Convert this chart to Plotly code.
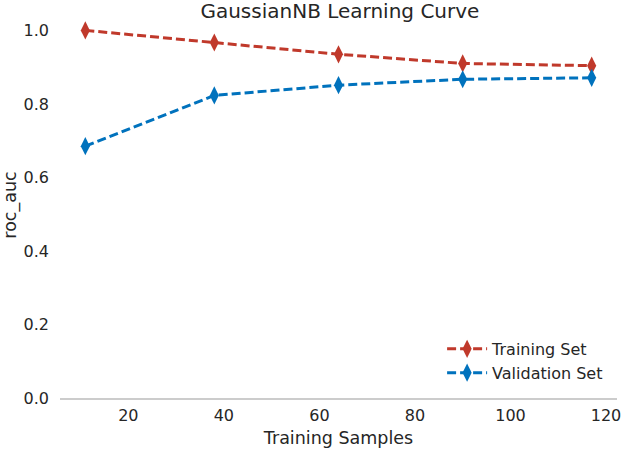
import plotly.graph_objects as go

train_sizes = [11, 38, 64, 90, 117]
train_scores = [1.0, 0.967, 0.935, 0.910, 0.904]
valid_scores = [0.685, 0.823, 0.851, 0.867, 0.871]
series_names = ["Training Set", "Validation Set"]
y_ticks = [0.0, 0.2, 0.4, 0.6, 0.8, 1.0]
x_ticks = [20, 40, 60, 80, 100, 120]

RED = "#c0392b"
BLUE = "#0072bd"
FONT = "DejaVu Sans"

fig = go.Figure()
for name, ys, col in [(series_names[0], train_scores, RED), (series_names[1], valid_scores, BLUE)]:
    fig.add_trace(go.Scatter(
        x=train_sizes, y=ys, name=name, mode="lines+markers",
        line=dict(color=col, width=3, dash="9px,4px"),
        marker=dict(symbol="diamond-tall", size=13, color=col),
    ))

span = train_sizes[-1] - train_sizes[0]
fig.update_layout(
    width=626, height=454,
    margin=dict(l=60, r=5, t=12, b=56),
    paper_bgcolor="white", plot_bgcolor="white",
    font=dict(family=FONT, size=16, color="#262626"),
    title=dict(text="GaussianNB Learning Curve", x=0.543, xanchor="center", y=0.975, yanchor="middle",
               font=dict(size=20, family=FONT, color="#262626")),
    xaxis=dict(range=[train_sizes[0] - 0.05 * span, train_sizes[-1] + 0.05 * span],
               tickvals=x_ticks, showgrid=False, zeroline=False,
               showline=True, linecolor="#cccccc", linewidth=1.5,
               ticks="", ticklabelstandoff=2,
               title=dict(text="Training Samples", font=dict(size=17.5), standoff=8),
               tickfont=dict(size=16)),
    yaxis=dict(range=[0, 1.05], tickvals=y_ticks, tickformat=".1f",
               showgrid=False, zeroline=False, showline=False, ticks="",
               ticklabelstandoff=10,
               title=dict(text="roc_auc", font=dict(size=17.5), standoff=4),
               tickfont=dict(size=16)),
    legend=dict(x=0.686, y=0.096, xanchor="left", yanchor="middle",
                bgcolor="rgba(255,255,255,0)", font=dict(size=16),
                itemwidth=40, tracegroupgap=0),
)

fig.write_html("out.html")
